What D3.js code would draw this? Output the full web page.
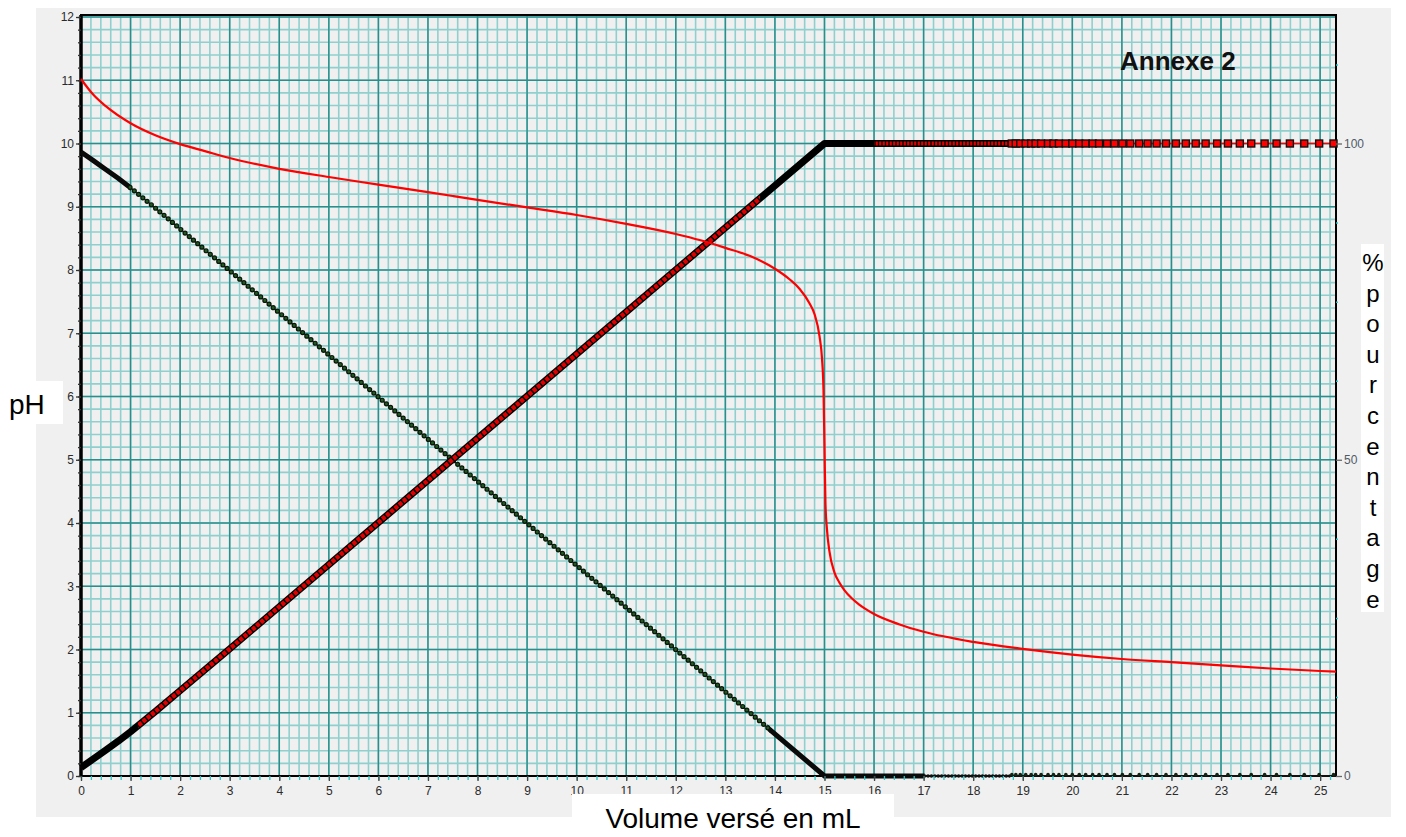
<!DOCTYPE html>
<html>
<head>
<meta charset="utf-8">
<script src="https://cdn.jsdelivr.net/npm/d3@7"></script>
<style>
  body { margin: 0; background: #fff; }
  svg { display: block; font-family: Arial, "Liberation Sans", sans-serif; }
</style>
</head>
<body>
<div id="chart"></div>
<script>
// pH curve
const phVolumes = [0, 0.25, 0.5, 1, 1.5, 2, 2.5, 3, 4, 5, 6, 7, 7.5, 8, 9, 10, 11, 12, 12.5, 13, 13.5, 14,
    14.3, 14.5, 14.7, 14.8, 14.9, 14.95, 14.98, 15.0, 15.02, 15.05, 15.1, 15.2, 15.3, 15.4, 15.55, 15.7, 15.85, 16, 16.5, 17,
    18, 19, 20, 21, 22, 23, 24, 25, 25.32];
const phValues = [11.02, 10.77, 10.59, 10.32, 10.13, 9.99, 9.88, 9.77, 9.6, 9.47, 9.35, 9.23, 9.17, 9.11, 8.99, 8.87, 8.73, 8.57, 8.47, 8.35, 8.22, 8.02,
    7.85, 7.7, 7.47, 7.3, 6.95, 6.6, 6.1, 5.2, 4.3, 3.9, 3.55, 3.22, 3.06, 2.94, 2.81, 2.71, 2.63, 2.56, 2.4, 2.28,
    2.12, 2.01, 1.92, 1.85, 1.8, 1.75, 1.7, 1.66, 1.65];

// percentages (right axis): acid form (red squares) and base form (green dots)
const pctVolumes = [0, 0.25, 0.5, 0.75, 1, 1.5, 2, 3, 15, 25.32];
const acidPct = [1.34, 2.7, 4.1, 5.5, 7.0, 10.2, 13.5, 20.1, 100, 100];
const basePct = [98.66, 97.3, 95.9, 94.5, 93.0, 89.8, 86.5, 79.9, 0, 0];

// volumes where the separate markers can be seen after the equivalence
const markerVolumes = [18.78, 18.86, 18.95, 19.06, 19.17, 19.26, 19.37, 19.51, 19.62, 19.73, 19.87, 20.0,
    20.14, 20.27, 20.41, 20.54, 20.7, 20.85, 21.01, 21.17, 21.35, 21.52, 21.7, 21.89, 22.09, 22.29, 22.49,
    22.69, 22.92, 23.14, 23.38, 23.61, 23.88, 24.12, 24.39, 24.68, 24.98, 25.27];

// volume ranges where the dense markers show their colour
const acidColourRanges = [[1.15, 13.7], [16, 18.75]];
const baseColourRanges = [[0.95, 13.9], [17, 18.75]];

const xTicks = d3.range(0, 26);
const phTicks = d3.range(0, 13);
const pctTicks = [0, 50, 100];

const width = 1406;
const height = 837;
const plot = { left: 81, right: 1336, top: 16, bottom: 776 };

const svg = d3.select('#chart').append('svg')
    .attr('width', width)
    .attr('height', height);

// grey frame
svg.append('rect')
    .attr('x', 36).attr('y', 8)
    .attr('width', 1355).attr('height', 809)
    .attr('fill', '#f0f0f0');

const x = d3.scaleLinear().domain([0, 25.32]).range([plot.left, plot.right]);
const y = d3.scaleLinear().domain([0, 12]).range([plot.bottom, 17]);
const yPct = d3.scaleLinear().domain([0, 120]).range([plot.bottom, 17]);

const defs = svg.append('defs');
function clipFor(id, ranges) {
    const cp = defs.append('clipPath').attr('id', id);
    ranges.forEach(([a, b]) => {
        const x0 = a === 0 ? x(a) - 10 : x(a);
        cp.append('rect')
            .attr('x', x0)
            .attr('y', 0)
            .attr('width', x(b) - x0)
            .attr('height', height);
    });
    return `url(#${id})`;
}

// grid: minor then major
const minorX = d3.range(0, 25.3, 0.2);
const minorY = d3.range(0, 12.01, 0.2);

svg.append('g')
    .selectAll('line')
    .data(minorX)
    .join('line')
    .attr('x1', d => x(d)).attr('x2', d => x(d))
    .attr('y1', plot.top).attr('y2', plot.bottom)
    .attr('stroke', '#8fd0ce').attr('stroke-width', 1.6);

svg.append('g')
    .selectAll('line')
    .data(minorY)
    .join('line')
    .attr('x1', plot.left).attr('x2', plot.right)
    .attr('y1', d => y(d)).attr('y2', d => y(d))
    .attr('stroke', '#8fd0ce').attr('stroke-width', 1.6);

svg.append('g')
    .selectAll('line')
    .data(xTicks)
    .join('line')
    .attr('x1', d => x(d)).attr('x2', d => x(d))
    .attr('y1', plot.top).attr('y2', plot.bottom)
    .attr('stroke', '#2a8f8c').attr('stroke-width', 1.5);

svg.append('g')
    .selectAll('line')
    .data(phTicks)
    .join('line')
    .attr('x1', plot.left).attr('x2', plot.right)
    .attr('y1', d => y(d)).attr('y2', d => y(d))
    .attr('stroke', '#2a8f8c').attr('stroke-width', 1.5);

// curves
const phLine = d3.line()
    .x((d, i) => x(phVolumes[i]))
    .y(d => y(d))
    .curve(d3.curveMonotoneX);

const pctLine = d3.line()
    .x((d, i) => x(pctVolumes[i]))
    .y(d => yPct(d));

// plot frame
svg.append('rect')
    .attr('x', plot.left).attr('y', plot.top - 1)
    .attr('width', plot.right - plot.left).attr('height', plot.bottom - plot.top + 1)
    .attr('fill', 'none').attr('stroke', '#000').attr('stroke-width', 2);
svg.append('line')
    .attr('x1', plot.left).attr('x2', plot.left)
    .attr('y1', plot.top - 1).attr('y2', plot.bottom + 1)
    .attr('stroke', '#000').attr('stroke-width', 3.5);

const curves = svg.append('g').attr('class', 'curves');

// base form: dark green dots
const baseD = pctLine(basePct);
curves.append('path').attr('d', baseD)
    .attr('fill', 'none').attr('stroke', '#222').attr('stroke-width', 1.2);
curves.append('path').attr('d', baseD)
    .attr('clip-path', clipFor('baseSolid', [[0, 1.0], [13.85, 17.02]]))
    .attr('fill', 'none').attr('stroke', '#0a0a0a').attr('stroke-width', 5);
const baseDots = curves.append('g').attr('clip-path', clipFor('baseDots', [baseColourRanges[0]]));
baseDots.append('path').attr('d', baseD)
    .attr('fill', 'none').attr('stroke', '#0b160b').attr('stroke-width', 5.2)
    .attr('stroke-linecap', 'round').attr('stroke-dasharray', '0 5.5');
baseDots.append('path').attr('d', baseD)
    .attr('fill', 'none').attr('stroke', '#1f5a1f').attr('stroke-width', 2.8)
    .attr('stroke-linecap', 'round').attr('stroke-dasharray', '0 5.5');
curves.append('path').attr('d', baseD)
    .attr('clip-path', clipFor('baseFlat', [baseColourRanges[1]]))
    .attr('fill', 'none').attr('stroke', '#111').attr('stroke-width', 3.6)
    .attr('stroke-linecap', 'round').attr('stroke-dasharray', '0 3.4');

// acid form: red squares with black borders
const acidD = pctLine(acidPct);
curves.append('path').attr('d', acidD)
    .attr('fill', 'none').attr('stroke', '#ff0000').attr('stroke-width', 1.6);
curves.append('path').attr('d', acidD)
    .attr('clip-path', clipFor('acidSolid', [[0, 18.75]]))
    .attr('fill', 'none').attr('stroke', '#000').attr('stroke-width', 7)
    .attr('stroke-linejoin', 'round');
curves.append('path').attr('d', acidD)
    .attr('clip-path', clipFor('acidDiag', [acidColourRanges[0]]))
    .attr('fill', 'none').attr('stroke', '#e00000').attr('stroke-width', 4.4)
    .attr('stroke-dasharray', '4 1.5');
curves.append('path').attr('d', acidD)
    .attr('clip-path', clipFor('acidFlat', [acidColourRanges[1]]))
    .attr('fill', 'none').attr('stroke', '#e00000').attr('stroke-width', 4)
    .attr('stroke-dasharray', '2.2 1.3');

// pH curve
curves.append('path').attr('d', phLine(phValues))
    .attr('fill', 'none').attr('stroke', '#ff0000').attr('stroke-width', 2.2);

// separate markers after equivalence
const marks = svg.append('g').attr('class', 'markers');
marks.selectAll('rect')
    .data(markerVolumes)
    .join('rect')
    .attr('x', d => x(d) - 3.5).attr('y', yPct(100) - 3.5)
    .attr('width', 7).attr('height', 7)
    .attr('fill', '#ff0000').attr('stroke', '#111').attr('stroke-width', 1.4);
marks.selectAll('circle')
    .data(markerVolumes)
    .join('circle')
    .attr('cx', d => x(d)).attr('cy', yPct(0) - 1.5)
    .attr('r', 1.8)
    .attr('fill', '#142414');

// axes
const axisFont = g => g.selectAll('text')
    .style('font-family', 'Arial, "Liberation Sans", sans-serif')
    .style('font-size', '12px');

const leftMinor = svg.append('g')
    .attr('transform', `translate(${plot.left},0)`)
    .call(d3.axisLeft(y).tickValues(minorY).tickSize(3).tickFormat(''));
leftMinor.select('.domain').remove();
leftMinor.selectAll('line').attr('stroke', '#333').attr('stroke-width', 1.3);

const leftAxis = svg.append('g')
    .attr('transform', `translate(${plot.left},0)`)
    .call(d3.axisLeft(y).tickValues(phTicks).tickSize(5).tickPadding(2));
leftAxis.select('.domain').remove();
leftAxis.selectAll('line').attr('stroke', '#333').attr('stroke-width', 1.3);
leftAxis.call(axisFont).selectAll('text').attr('fill', '#2a2a2a');

const bottomMinor = svg.append('g')
    .attr('transform', `translate(0,${plot.bottom})`)
    .call(d3.axisBottom(x).tickValues(minorX).tickSize(4).tickFormat(''));
bottomMinor.select('.domain').remove();
bottomMinor.selectAll('line').attr('stroke', '#2ec4c4').attr('stroke-width', 1.3);

const bottomAxis = svg.append('g')
    .attr('transform', `translate(0,${plot.bottom})`)
    .call(d3.axisBottom(x).tickValues(xTicks).tickSize(5).tickPadding(5));
bottomAxis.select('.domain').remove();
bottomAxis.selectAll('line').attr('stroke', '#444').attr('stroke-width', 1.3);
bottomAxis.call(axisFont).selectAll('text').attr('fill', '#2a2a2a');

const rightMinor = svg.append('g')
    .attr('transform', `translate(${plot.right},0)`)
    .call(d3.axisRight(yPct).tickValues([12.5, 25, 37.5, 62.5, 75, 87.5, 112.5]).tickSize(2).tickFormat(''));
rightMinor.select('.domain').remove();
rightMinor.selectAll('line').attr('stroke', '#2ec4c4').attr('stroke-width', 1.5);

const rightAxis = svg.append('g')
    .attr('transform', `translate(${plot.right},0)`)
    .call(d3.axisRight(yPct).tickValues(pctTicks).tickSize(6).tickPadding(2));
rightAxis.select('.domain').remove();
rightAxis.selectAll('line').attr('stroke', '#666').attr('stroke-width', 1.3);
rightAxis.call(axisFont).selectAll('text').attr('fill', '#505a66');

// titles
svg.append('text')
    .attr('x', 1120).attr('y', 70)
    .attr('font-size', 26).attr('font-weight', 'bold')
    .attr('fill', '#111')
    .text('Annexe 2');

svg.append('rect').attr('x', 0).attr('y', 381).attr('width', 63).attr('height', 43).attr('fill', '#fff');
svg.append('text')
    .attr('x', 9).attr('y', 414)
    .attr('font-size', 28).attr('fill', '#000')
    .text('pH');

svg.append('rect').attr('x', 572).attr('y', 794).attr('width', 322).attr('height', 43).attr('fill', '#fff');
svg.append('text')
    .attr('x', 733).attr('y', 828)
    .attr('text-anchor', 'middle')
    .attr('font-size', 28).attr('fill', '#000')
    .text('Volume versé en mL');

const pctLetters = Array.from('%pourcentage');
svg.append('rect').attr('x', 1361).attr('y', 244).attr('width', 23).attr('height', 368).attr('fill', '#fff');
svg.append('g')
    .selectAll('text')
    .data(pctLetters)
    .join('text')
    .attr('x', 1373)
    .attr('y', (d, i) => 271 + i * 30.6)
    .attr('text-anchor', 'middle')
    .attr('font-size', 24).attr('fill', '#000')
    .text(d => d);
</script>
</body>
</html>
